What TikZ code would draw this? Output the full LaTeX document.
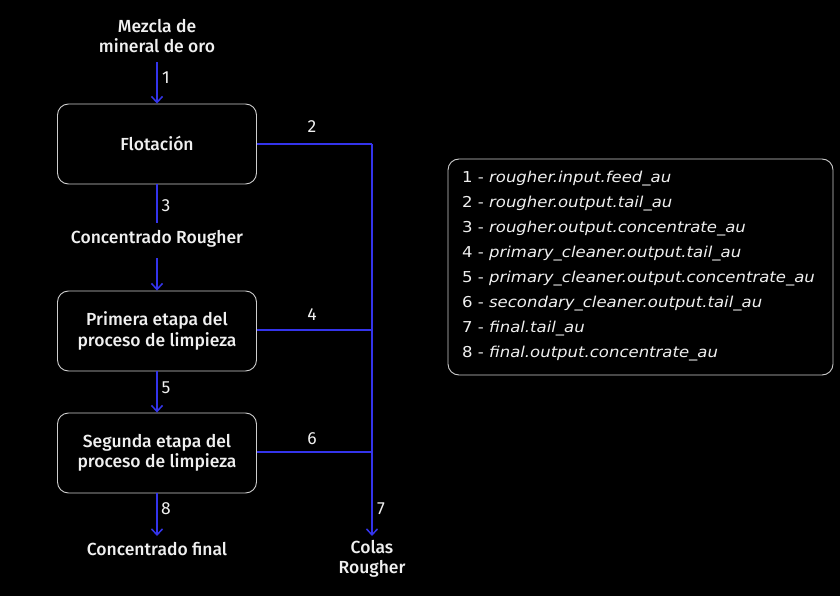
\documentclass[tikz,border=0pt]{standalone}
\usepackage{fontspec}
\setmainfont{Fira Sans}[BoldFont={Fira Sans Medium}]
\newfontfamily\legfont{DejaVu Sans}[FakeStretch=1.1]
\usetikzlibrary{arrows.meta}
\definecolor{flowblue}{RGB}{52,52,235}
\definecolor{boxline}{RGB}{205,205,205}
\definecolor{txt}{RGB}{240,240,240}
\begin{document}
\begin{tikzpicture}[x=1pt,y=-1pt,
  lbl/.style={text=txt,font=\fontsize{17.5}{20.5}\selectfont\bfseries,align=center,inner sep=0pt},
  num/.style={text=txt,font=\fontsize{17.5}{20}\selectfont,inner sep=0pt},
  stage/.style={draw=boxline,line width=0.9pt,rounded corners=11pt,minimum width=199pt,minimum height=80pt,inner sep=0pt,text=txt,font=\fontsize{17.5}{20.5}\selectfont\bfseries,align=center},
  flow/.style={draw=flowblue,line width=2pt},
  flowarr/.style={flow,-{Straight Barb[length=6pt,width=11pt,line width=1.5pt]}}
]
\fill[black] (0,0) rectangle (840,596);
\useasboundingbox (0,0) rectangle (840,596);

\node[lbl] (in) at (157,36) {Mezcla de\\mineral de oro};
\node[stage] (flot) at (157,144) {\raisebox{2pt}{Flotación}};
\node[lbl] (cr) at (157,239) {Concentrado Rougher};
\node[stage] (p1) at (157,331) {Primera etapa del\\proceso de limpieza};
\node[stage] (p2) at (157,453) {Segunda etapa del\\proceso de limpieza};
\node[lbl] (cf) at (157,549) {Concentrado final};
\node[lbl] (colas) at (372,559) {Colas\\Rougher};

\coordinate (a1) at (157,62);
\coordinate (a3) at (157,223);
\coordinate (a3b) at (157,258);
\coordinate (j2) at (372,144);
\coordinate (j4) at (372,330);
\coordinate (j6) at (372,452);
\coordinate (e7) at (372,536);
\coordinate (e8) at (157,536);

\draw[flowarr] (a1) -- (flot.north);
\draw[flow] (flot.south) -- (a3);
\draw[flowarr] (a3b) -- (p1.north);
\draw[flowarr] (p1.south) -- (p2.north);
\draw[flowarr] (p2.south) -- (e8);
\draw[flow] (flot.east |- j2) -- (j2);
\draw[flowarr] (j2) -- (e7);
\draw[flow] (p1.east |- j4) -- (j4);
\draw[flow] (p2.east |- j6) -- (j6);

\node[num] (n1) at (166,78) {1};
\node[num] (n2) at (312,127) {2};
\node[num] (n3) at (166,206) {3};
\node[num] (n4) at (312,315) {4};
\node[num] (n5) at (166,388) {5};
\node[num] (n6) at (312,439) {6};
\node[num] (n7) at (381,509) {7};
\node[num] (n8) at (166,509) {8};

\node[draw=boxline,line width=0.9pt,rounded corners=11pt,minimum width=385pt,minimum height=216pt] (leg) at (640.5,267) {};
\node[anchor=west,align=left,inner sep=0pt,text=txt,font=\legfont\fontsize{15}{25}\selectfont] (legtxt) at (462,266.5) {%
1 - \textit{rougher.input.feed\_au}\\
2 - \textit{rougher.output.tail\_au}\\
3 - \textit{rougher.output.concentrate\_au}\\
4 - \textit{primary\_cleaner.output.tail\_au}\\
5 - \textit{primary\_cleaner.output.concentrate\_au}\\
6 - \textit{secondary\_cleaner.output.tail\_au}\\
7 - \textit{final.tail\_au}\\
8 - \textit{final.output.concentrate\_au}};
\end{tikzpicture}
\end{document}
